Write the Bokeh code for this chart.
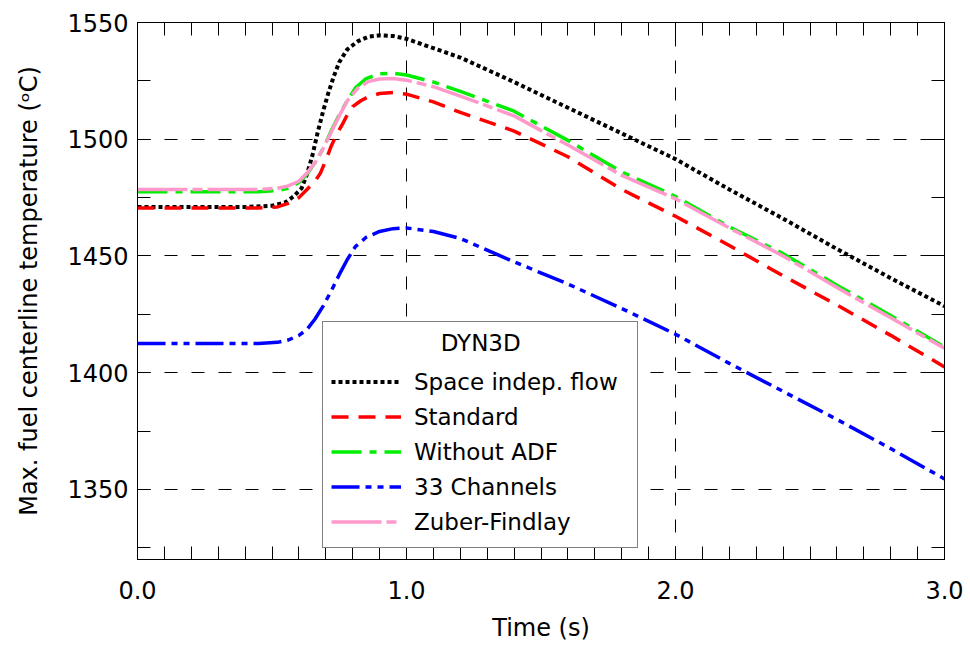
from bokeh.plotting import figure
from bokeh.models import (LinearAxis, FixedTicker, Legend, LegendItem, Range1d)
from bokeh.embed import file_html
from bokeh.resources import INLINE

# ---------------- data ----------------
t_black = [0.00, 0.40, 0.50, 0.55, 0.58, 0.61, 0.63, 0.65, 0.67, 0.69, 0.71, 0.73,
           0.75, 0.78, 0.82, 0.86, 0.90, 0.95, 1.00, 1.10, 1.20, 1.40, 1.60, 1.80,
           2.00, 2.20, 2.40, 2.60, 2.80, 3.00]
v_black = [1471, 1471, 1471.5, 1473, 1475.5, 1479, 1485, 1493, 1503, 1512, 1520, 1527,
           1533, 1538.5, 1542, 1544, 1544.5, 1544.2, 1543, 1539, 1535, 1524.5, 1513.5,
           1502.5, 1491.5, 1478.5, 1466, 1453, 1440.5, 1428.5]

t_red = [0.00, 0.45, 0.52, 0.56, 0.60, 0.63, 0.66, 0.68, 0.70, 0.72, 0.74, 0.76,
         0.78, 0.80, 0.83, 0.86, 0.90, 0.95, 1.00, 1.10, 1.20, 1.40, 1.60, 1.80,
         2.00, 2.20, 2.40, 2.60, 2.80, 3.00]
v_red = [1470.5, 1470.5, 1471, 1472.5, 1475, 1478.5, 1482, 1485.5, 1491, 1497, 1502,
         1506, 1510.5, 1514, 1516.5, 1518.3, 1519.6, 1520, 1519.3, 1516, 1511.5,
         1503.5, 1492.5, 1478.5, 1467, 1454.5, 1441.5, 1429, 1416, 1402.5]

t_green = [0.00, 0.45, 0.52, 0.56, 0.60, 0.63, 0.66, 0.69, 0.72, 0.75, 0.78, 0.81,
           0.85, 0.90, 0.95, 1.00, 1.10, 1.20, 1.40, 1.60, 1.80, 2.00, 2.20, 2.40,
           2.60, 2.80, 3.00]
v_green = [1477.5, 1477.5, 1478, 1479, 1481.5, 1485, 1490, 1496, 1503.5, 1510.5,
           1516.5, 1522, 1526, 1528, 1528.3, 1527.5, 1524.5, 1520.5, 1512, 1499.5,
           1486, 1475.5, 1462.5, 1451, 1437.5, 1424.5, 1411]

t_blue = [0.00, 0.45, 0.52, 0.56, 0.60, 0.63, 0.66, 0.69, 0.72, 0.75, 0.78, 0.81,
          0.85, 0.90, 0.95, 1.00, 1.10, 1.20, 1.40, 1.60, 1.80, 2.00, 2.20, 2.40,
          2.60, 2.80, 3.00]
v_blue = [1412.5, 1412.5, 1413, 1414, 1416, 1418.5, 1423, 1428.5, 1435, 1442, 1448.5,
          1454, 1458, 1460.5, 1461.7, 1462, 1460.5, 1457.5, 1447.5, 1438, 1427.5,
          1416.5, 1404, 1392, 1380, 1367.5, 1354.5]

t_pink = [0.00, 0.45, 0.52, 0.56, 0.60, 0.63, 0.66, 0.69, 0.72, 0.75, 0.78, 0.82,
          0.86, 0.90, 0.95, 1.00, 1.10, 1.20, 1.40, 1.60, 1.80, 2.00, 2.20, 2.40,
          2.60, 2.80, 3.00]
v_pink = [1478.5, 1478.5, 1479, 1480, 1482, 1485.5, 1490, 1496, 1503, 1510, 1516.5,
          1522, 1524.8, 1525.8, 1526, 1525.3, 1522.5, 1518.5, 1510, 1497.5, 1484.5,
          1474.5, 1462, 1450, 1436.5, 1423.5, 1410.5]

series_labels = ["Space indep. flow", "Standard", "Without ADF", "33 Channels",
                 "Zuber-Findlay"]
legend_title = "DYN3D"

x_ticks = [0.0, 1.0, 2.0, 3.0]
x_tick_labels = ["0.0", "1.0", "2.0", "3.0"]
y_ticks = [1350, 1400, 1450, 1500, 1550]
y_tick_labels = ["1350", "1400", "1450", "1500", "1550"]
x_minor = [round(0.1 * i, 1) for i in range(31)]
y_minor = [1325 + 25 * i for i in range(10)]

x_label = "Time (s)"
y_label = "Max. fuel centerline temperature (\u1d52C)"

FONT = "DejaVu Sans"

# ---------------- figure ----------------
p = figure(width=970, height=649, x_range=Range1d(0, 3), y_range=Range1d(1320, 1550),
           output_backend="svg", toolbar_location=None,
           min_border_left=137, min_border_right=26, min_border_top=22,
           min_border_bottom=90, background_fill_color="white",
           border_fill_color="white")
p.outline_line_color = "black"
p.outline_line_width = 1

def style_axis(ax, ticks, minor, labels, show_labels=True):
    ax.ticker = FixedTicker(ticks=ticks, minor_ticks=minor)
    ax.major_tick_in = 13
    ax.major_tick_out = 0
    ax.minor_tick_in = 13
    ax.minor_tick_out = 0
    ax.major_tick_line_color = "black"
    ax.minor_tick_line_color = "black"
    ax.axis_line_color = "black"
    if show_labels:
        ax.major_label_overrides = {t: l for t, l in zip(ticks, labels)}
        ax.major_label_text_font = FONT
        ax.major_label_text_font_size = "24px"
        ax.major_label_text_color = "black"
        ax.axis_label_text_font = FONT
        ax.axis_label_text_font_size = "24px"
        ax.axis_label_text_font_style = "normal"
        ax.axis_label_text_color = "black"
    else:
        ax.major_label_overrides = {t: "" for t in ticks}
        ax.major_label_text_font_size = "2px"
        ax.major_label_standoff = 0
        ax.axis_label = None

style_axis(p.xaxis[0], x_ticks, x_minor, x_tick_labels)
style_axis(p.yaxis[0], y_ticks, y_minor, y_tick_labels)
p.xaxis[0].axis_label = x_label
p.yaxis[0].axis_label = y_label
p.xaxis[0].major_label_standoff = 21
p.xaxis[0].axis_label_standoff = 12
p.yaxis[0].major_label_standoff = 9
p.yaxis[0].axis_label_standoff = 21

top_ax = LinearAxis()
style_axis(top_ax, x_ticks, x_minor, x_tick_labels, show_labels=False)
p.add_layout(top_ax, "above")
right_ax = LinearAxis()
style_axis(right_ax, y_ticks, y_minor, y_tick_labels, show_labels=False)
p.add_layout(right_ax, "right")

p.xgrid.ticker = FixedTicker(ticks=x_ticks)
p.ygrid.ticker = FixedTicker(ticks=y_ticks)
for g in (p.xgrid, p.ygrid):
    g.grid_line_color = "black"
    g.grid_line_width = 1
    g.grid_line_dash = "13 14"

# ---------------- lines ----------------
r_black = p.line(t_black, v_black, line_color="black", line_width=4,
                 line_dash="4 3", line_cap="butt")
r_red = p.line(t_red, v_red, line_color="#ff0000", line_width=3.5,
               line_dash="17 10", line_cap="butt")
r_green = p.line(t_green, v_green, line_color="#00ee00", line_width=3.5,
                 line_dash="30 8 7 8", line_cap="butt")
r_blue = p.line(t_blue, v_blue, line_color="#0000ff", line_width=3.5,
                line_dash="28 6 6 6 6 6", line_cap="butt")
r_pink = p.line(t_pink, v_pink, line_color="#ff99cc", line_width=3.5,
                line_dash="50 5 10 5", line_cap="butt")

renderers = [r_black, r_red, r_green, r_blue, r_pink]
# the heading is pushed towards the centre of the box with no-break spaces
legend = Legend(items=[LegendItem(label=lab, renderers=[r])
                       for lab, r in zip(series_labels, renderers)],
                location=(185, 11), title="\u00a0" * 15 + legend_title,
                title_text_font=FONT, title_text_font_size="23px",
                title_text_font_style="normal", title_text_color="black",
                title_standoff=8,
                label_text_font=FONT, label_text_font_size="23px",
                label_text_color="black", label_standoff=13, label_width=215,
                glyph_width=70, glyph_height=35, label_height=35, spacing=0,
                padding=8, margin=0, border_line_color="black",
                border_line_width=1, background_fill_color="white",
                background_fill_alpha=1.0)
p.add_layout(legend, "center")

open("out.html", "w").write(file_html(p, INLINE))
